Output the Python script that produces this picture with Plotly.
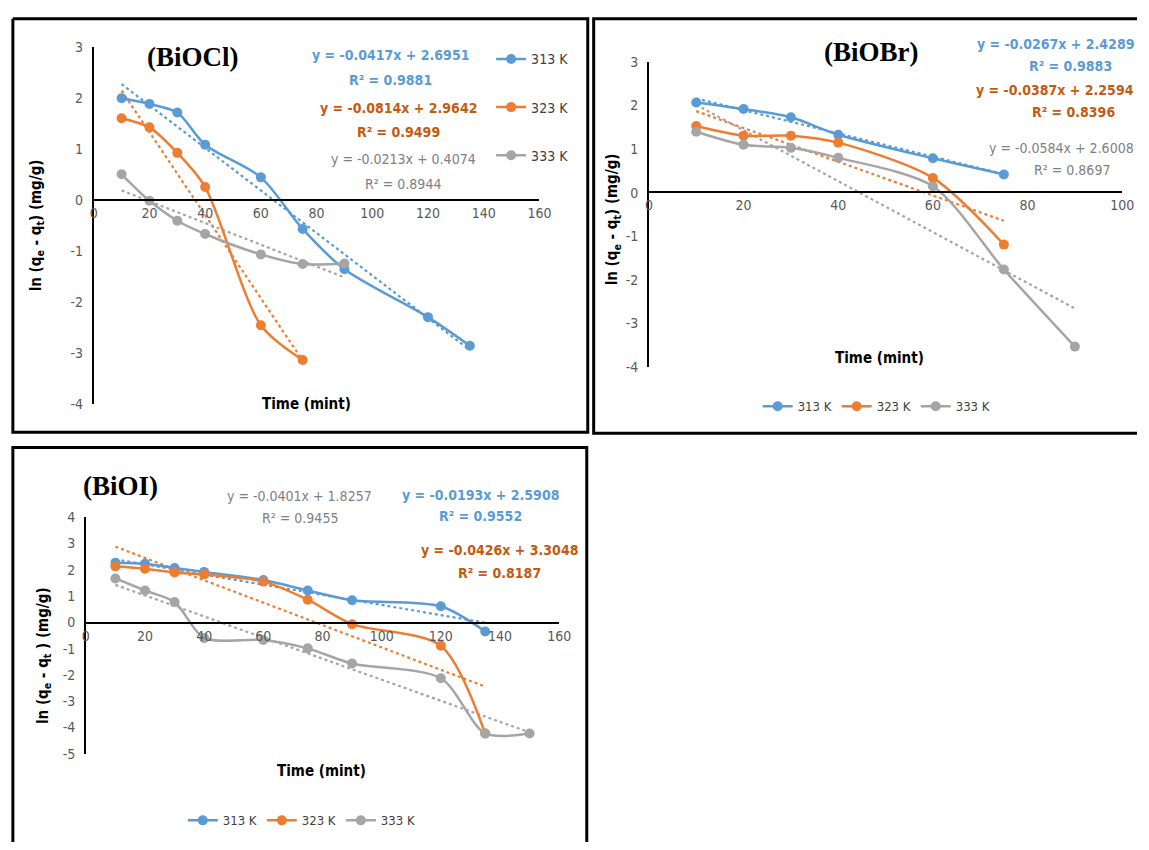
import numpy as np
import plotly.graph_objects as go

W, H = 1149, 850

# ---------------- data ----------------
series_names = ["313 K", "323 K", "333 K"]
colors = ["#5B9BD5", "#ED7D31", "#A5A5A5"]
eq_colors = ["#5B9BD5", "#C55A11", "#808080"]

# BiOCl
cl_x313 = [10, 20, 30, 40, 60, 75, 90, 120, 135]
cl_y313 = [2.00, 1.89, 1.72, 1.09, 0.45, -0.56, -1.35, -2.29, -2.85]
cl_x323 = [10, 20, 30, 40, 60, 75]
cl_y323 = [1.61, 1.43, 0.93, 0.26, -2.45, -3.13]
cl_x333 = [10, 20, 30, 40, 60, 75, 90]
cl_y333 = [0.51, -0.01, -0.40, -0.66, -1.06, -1.25, -1.24]
cl_slope = [-0.0417, -0.0814, -0.0213]
cl_icept = [2.6951, 2.9642, 0.4074]
cl_r2 = ["0.9881", "0.9499", "0.8944"]

# BiOBr
br_x313 = [10, 20, 30, 40, 60, 75]
br_y313 = [2.07, 1.92, 1.73, 1.33, 0.79, 0.42]
br_x323 = [10, 20, 30, 40, 60, 75]
br_y323 = [1.53, 1.31, 1.31, 1.15, 0.34, -1.19]
br_x333 = [10, 20, 30, 40, 60, 75, 90]
br_y333 = [1.40, 1.10, 1.03, 0.80, 0.15, -1.76, -3.53]
br_slope = [-0.0267, -0.0387, -0.0584]
br_icept = [2.4289, 2.2594, 2.6008]
br_r2 = ["0.9883", "0.8396", "0.8697"]

# BiOI
i_x313 = [10, 20, 30, 40, 60, 75, 90, 120, 135]
i_y313 = [2.27, 2.23, 2.07, 1.92, 1.61, 1.21, 0.84, 0.61, -0.35]
i_x323 = [10, 20, 30, 40, 60, 75, 90, 120, 135]
i_y323 = [2.13, 2.04, 1.90, 1.82, 1.55, 0.86, -0.07, -0.89, -4.23]
i_x333 = [10, 20, 30, 40, 60, 75, 90, 120, 135, 150]
i_y333 = [1.67, 1.21, 0.77, -0.60, -0.67, -0.99, -1.57, -2.13, -4.23, -4.23]
i_slope = [-0.0193, -0.0426, -0.0401]
i_icept = [2.5908, 3.3048, 1.8257]
i_r2 = ["0.9552", "0.8187", "0.9455"]

x_ticks_cl = [0, 20, 40, 60, 80, 100, 120, 140, 160]
x_ticks_br = [0, 20, 40, 60, 80, 100]
x_ticks_i = [0, 20, 40, 60, 80, 100, 120, 140, 160]
y_ticks_cl = [-4, -3, -2, -1, 0, 1, 2, 3]
y_ticks_br = [-4, -3, -2, -1, 0, 1, 2, 3]
y_ticks_i = [-5, -4, -3, -2, -1, 0, 1, 2, 3, 4]

# ---------------- helpers ----------------
def px(x):
    return x / W

def py(y):
    return 1 - y / H

NARROW = "Liberation Sans Narrow, DejaVu Sans Condensed, Arial Narrow, sans-serif"
SERIF = "Liberation Serif, Times New Roman, serif"

fig = go.Figure()

panels = [
    dict(ax="", xs=[cl_x313, cl_x323, cl_x333], ys=[cl_y313, cl_y323, cl_y333],
         slope=cl_slope, icept=cl_icept, legend="legend"),
    dict(ax="2", xs=[br_x313, br_x323, br_x333], ys=[br_y313, br_y323, br_y333],
         slope=br_slope, icept=br_icept, legend="legend2"),
    dict(ax="3", xs=[i_x313, i_x323, i_x333], ys=[i_y313, i_y323, i_y333],
         slope=i_slope, icept=i_icept, legend="legend3"),
]

for pi, p in enumerate(panels):
    xa = "x" + p["ax"]
    ya = "y" + p["ax"]
    for k in range(3):
        xs = np.array(p["xs"][k], dtype=float)
        ends = np.array([xs[0], xs[-1]])
        fig.add_trace(go.Scatter(
            x=ends, y=p["slope"][k] * ends + p["icept"][k],
            mode="lines", line=dict(color=colors[k], width=2.2, dash="dot"),
            xaxis=xa, yaxis=ya, showlegend=False, hoverinfo="skip"))
    for k in range(3):
        fig.add_trace(go.Scatter(
            x=p["xs"][k], y=p["ys"][k], name=series_names[k],
            mode="lines+markers",
            line=dict(color=colors[k], width=2.5, shape="spline", smoothing=0.8),
            marker=dict(color=colors[k], size=10),
            xaxis=xa, yaxis=ya, legend=p["legend"],
            legendgroup=f"p{pi}_{k}"))

tickfont = dict(family=NARROW, size=14, color="#595959")

def xaxis_cfg(dom, rng, ticks, pos):
    return dict(domain=dom, range=rng, tickvals=ticks,
                ticktext=[str(t) for t in ticks], anchor="free", position=pos,
                showline=True, linecolor="black", linewidth=2,
                ticks="", showgrid=False, zeroline=False, tickfont=tickfont,
                fixedrange=True)

def yaxis_cfg(dom, rng, ticks, anchor_x):
    return dict(domain=dom, range=rng, tickvals=ticks,
                ticktext=[str(t) for t in ticks], anchor=anchor_x,
                showline=True, linecolor="black", linewidth=1.6, ticks="",
                showgrid=False, zeroline=False, tickfont=tickfont,
                ticklabelstandoff=6, fixedrange=True)

layout = dict(
    width=W, height=H, margin=dict(l=0, r=0, t=0, b=0),
    paper_bgcolor="white", plot_bgcolor="rgba(0,0,0,0)", showlegend=True,
    xaxis=xaxis_cfg([px(91), px(543)], [0, 160], x_ticks_cl, py(196)),
    yaxis=yaxis_cfg([py(404), py(40)], [-4, 3], y_ticks_cl, "x"),
    xaxis2=xaxis_cfg([px(654), px(1134)], [0, 100], x_ticks_br, py(188)),
    yaxis2=yaxis_cfg([py(366), py(55)], [-4, 3], y_ticks_br, "x2"),
    xaxis3=xaxis_cfg([px(83), px(563)], [0, 160], x_ticks_i, py(627)),
    yaxis3=yaxis_cfg([py(760), py(519)], [-5, 4], y_ticks_i, "x3"),
    legend=dict(x=px(494), y=py(36), xanchor="left", yanchor="top",
                orientation="v", traceorder="grouped", tracegroupgap=27,
                bgcolor="rgba(0,0,0,0)",
                font=dict(family=NARROW, size=14, color="#404040")),
    legend2=dict(x=px(885), y=py(406), xanchor="center", yanchor="middle",
                 orientation="h", bgcolor="rgba(0,0,0,0)",
                 font=dict(family=NARROW, size=13, color="#404040")),
    legend3=dict(x=px(302), y=py(828), xanchor="center", yanchor="middle",
                 orientation="h", bgcolor="rgba(0,0,0,0)",
                 font=dict(family=NARROW, size=13, color="#404040")),
)
fig.update_layout(**layout)

# panel frames (panel 2 is cut at the right edge, panel 3 at the bottom)
def frame_path(pts_list):
    segs = []
    for pts in pts_list:
        segs.append("M " + " L ".join(f"{px(x):.5f},{py(y):.5f}" for x, y in pts))
    return " ".join(segs)

frame_paths = [
    [[(9, 11), (592, 11), (592, 432.5), (9, 432.5), (9, 11)]],
    [[(W, 11), (598, 11), (598, 433.5), (W, 433.5)]],
    [[(9, H), (9, 448), (591, 448), (591, H)]],
]
for pts_list in frame_paths:
    fig.add_shape(type="path", xref="paper", yref="paper",
                  path=frame_path(pts_list), line=dict(color="black", width=3))

def ann(text, x, y, size, color="black", bold=False, family=NARROW, angle=0,
        xanchor="center"):
    fig.add_annotation(text=f"<b>{text}</b>" if bold else text,
                       x=px(x), y=py(y), xref="paper", yref="paper",
                       showarrow=False, textangle=angle,
                       font=dict(family=family, size=size, color=color),
                       xanchor=xanchor, yanchor="middle")

def eq_text(s, b):
    return f"y = {s:.4f}x + {b:.4f}"

ytitle = "ln (q<sub>e</sub> - q<sub>t</sub>) (mg/g)"
ytitle3 = "ln (q<sub>e</sub> - q<sub>t</sub> ) (mg/g)"
EQ = 14

# Panel 1: BiOCl
ann("(BiOCl)", 192, 50, 27, bold=True, family=SERIF)
eq_pos1 = [(392, 48, 73), (400, 102, 126), (405, 154, 179)]
for k in range(3):
    x, y1, y2 = eq_pos1[k]
    b = k < 2
    ann(eq_text(cl_slope[k], cl_icept[k]), x, y1, EQ, eq_colors[k], bold=b)
    ann(f"R² = {cl_r2[k]}", x, y2, EQ, eq_colors[k], bold=b)
ann("Time (mint)", 307, 404, 15, bold=True)
ann(ytitle, 33, 222, 15, bold=True, angle=-90)

# Panel 2: BiOBr (equations pushed against the right edge)
ann("(BiOBr)", 880, 45, 27, bold=True, family=SERIF)
eq_pos2 = [(37, 59, 1082), (84, 106, 1085), (143, 165, 1083)]
for k in range(3):
    y1, y2, xr2 = eq_pos2[k]
    b = k < 2
    ann(eq_text(br_slope[k], br_icept[k]), W - 1, y1, EQ, eq_colors[k],
        bold=b, xanchor="right")
    ann(f"R² = {br_r2[k]}", xr2, y2, EQ, eq_colors[k], bold=b)
ann("Time (mint)", 888, 357, 15, bold=True)
ann(ytitle, 618, 215, 15, bold=True, angle=-90)

# Panel 3: BiOI
ann("(BiOI)", 118, 487, 27, bold=True, family=SERIF)
eq_pos3 = [(483, 496, 518), (502, 552, 576), (300, 497, 520)]
for k in range(3):
    x, y1, y2 = eq_pos3[k]
    b = k < 2
    ann(eq_text(i_slope[k], i_icept[k]), x, y1, EQ, eq_colors[k], bold=b)
    ann(f"R² = {i_r2[k]}", x, y2, EQ, eq_colors[k], bold=b)
ann("Time (mint)", 322, 778, 15, bold=True)
ann(ytitle3, 40, 660, 15, bold=True, angle=-90)

# pin the figure to the top-left corner of the 1149x850 window
pin = (
    "var d=document.getElementById('{plot_id}');"
    "d.style.position='fixed';d.style.left='0px';d.style.top='0px';"
    "document.documentElement.style.overflow='hidden';"
    "document.body.style.margin='0px';document.body.style.overflow='hidden';"
)
fig.write_html("out.html", config={"displayModeBar": False}, post_script=pin)
